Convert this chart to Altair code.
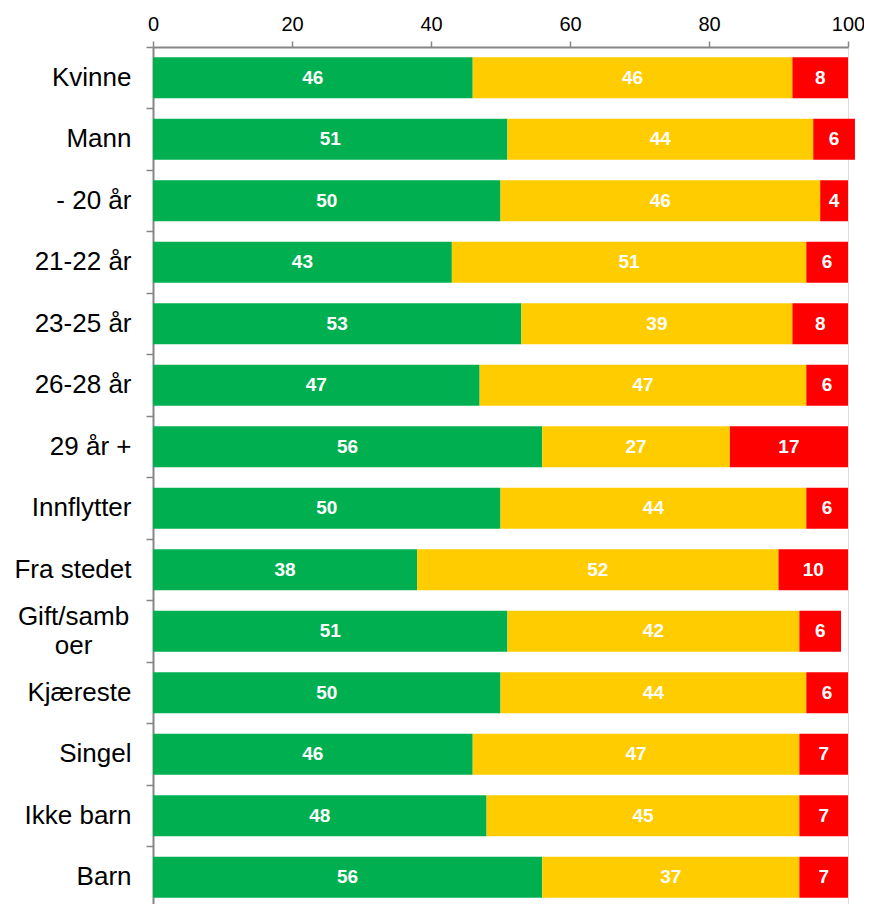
import altair as alt
import pandas as pd

categories = ["Kvinne", "Mann", "- 20 år", "21-22 år", "23-25 år", "26-28 år", "29 år +",
              "Innflytter", "Fra stedet", "Gift/samboer", "Kjæreste", "Singel", "Ikke barn", "Barn"]
green = [46, 51, 50, 43, 53, 47, 56, 50, 38, 51, 50, 46, 48, 56]
yellow = [46, 44, 46, 51, 39, 47, 27, 44, 52, 42, 44, 47, 45, 37]
red = [8, 6, 4, 6, 8, 6, 17, 6, 10, 6, 6, 7, 7, 7]
series = ["Grønn", "Gul", "Rød"]
colors = ["#00B050", "#FFCC00", "#FF0000"]
x_ticks = [0, 20, 40, 60, 80, 100]

rows = []
for i, cat in enumerate(categories):
    start = 0
    for s, vals in zip(series, [green, yellow, red]):
        v = vals[i]
        rows.append({"cat": cat, "serie": s, "value": v, "start": start,
                     "end": start + v, "mid": start + v / 2, "order": i})
        start += v
df = pd.DataFrame(rows)

FONT = "Liberation Sans"
WRAP = "datum.value == 'Gift/samboer'"

y_enc = alt.Y(
    "cat:N",
    sort=categories,
    scale=alt.Scale(paddingInner=0, paddingOuter=0),
    axis=alt.Axis(
        title=None,
        orient="left",
        bandPosition=0,
        tickSize=7,
        tickWidth=1.5,
        tickColor="#868686",
        domainColor="#868686",
        domainWidth=2,
        labelPadding={"condition": {"test": WRAP, "value": 73}, "value": 15},
        labelAlign={"condition": {"test": WRAP, "value": "center"}, "value": "right"},
        labelFontSize=26,
        labelColor="#000000",
        labelFont=FONT,
        labelLineHeight=29,
        labelOffset={"condition": {"test": WRAP, "value": -14}, "value": 0},
        labelExpr="datum.value == 'Gift/samboer' ? ['Gift/samb', 'oer'] : datum.value",
        grid=False,
    ),
)

bars = alt.Chart(df).mark_bar(height={"band": 0.667}).encode(
    x=alt.X(
        "start:Q",
        scale=alt.Scale(domain=[0, 100], nice=False, clamp=False),
        axis=alt.Axis(
            title=None,
            orient="top",
            values=x_ticks,
            tickSize=6,
            tickWidth=1.5,
            tickColor="#868686",
            domainColor="#868686",
            domainWidth=2,
            labelPadding=7,
            labelFontSize=20,
            labelColor="#000000",
            labelFont=FONT,
            labelFlush=False,
            grid=False,
        ),
    ),
    x2="end:Q",
    y=y_enc,
    color=alt.Color("serie:N", scale=alt.Scale(domain=series, range=colors), legend=None),
)

labels = alt.Chart(df).mark_text(
    color="white", fontWeight="bold", fontSize=19, font=FONT, baseline="middle", align="center"
).encode(
    x=alt.X("mid:Q"),
    y=alt.Y("cat:N", sort=categories),
    text=alt.Text("value:Q"),
)

chart = alt.layer(bars, labels).properties(
    width=695,
    height=861,
    autosize=alt.AutoSizeParams(type="none"),
    padding={"left": 145, "top": 39, "right": 16, "bottom": 0},
).configure_view(stroke=None).configure(font=FONT)

chart.save("out.html", embed_options={"renderer": "svg", "actions": False})
